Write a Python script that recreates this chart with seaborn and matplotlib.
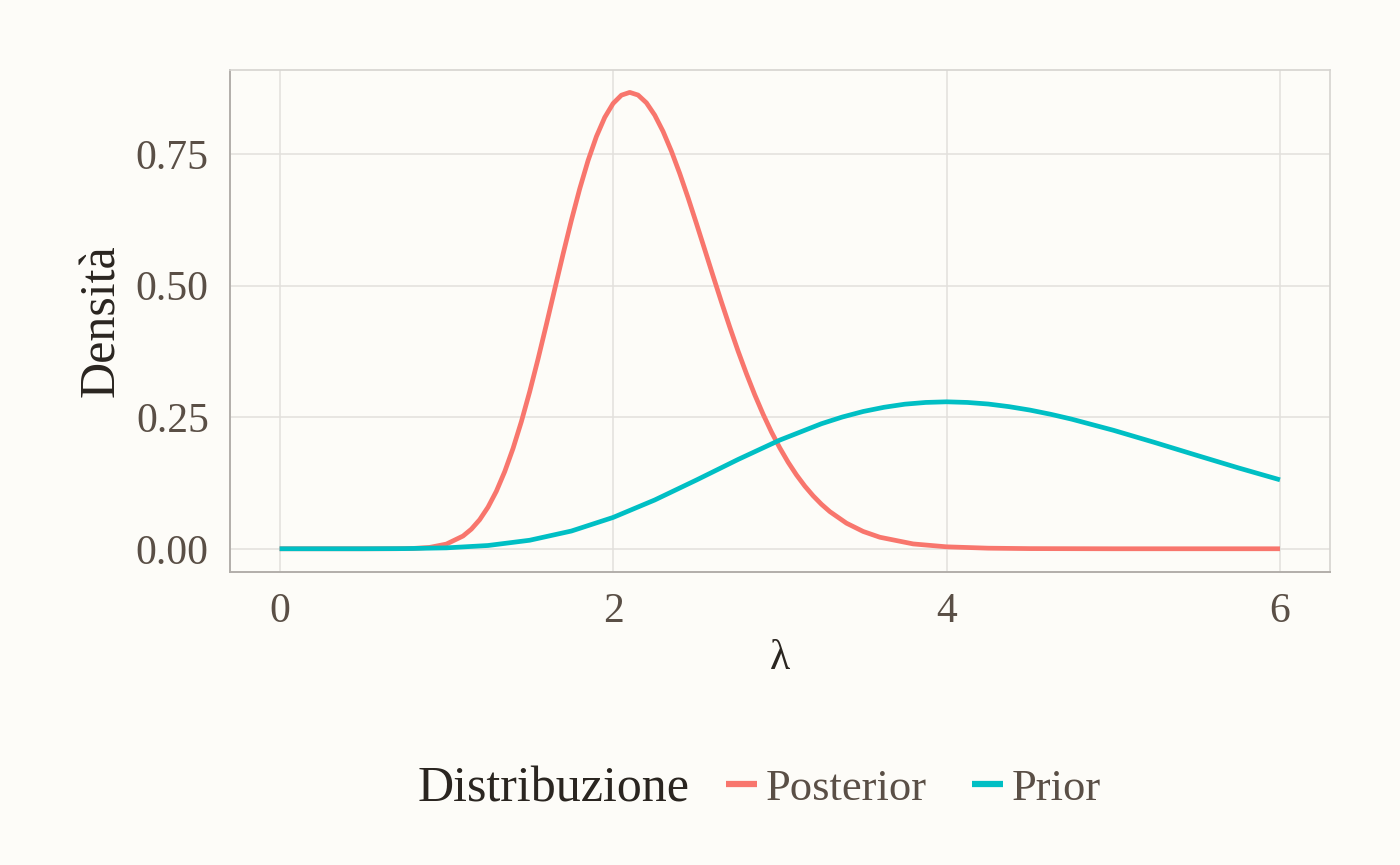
import numpy as np
import pandas as pd
import matplotlib
matplotlib.use("Agg")
import matplotlib.pyplot as plt
from matplotlib.lines import Line2D
import seaborn as sns

# values
lambda_post = [0.0, 0.25, 0.5, 0.7, 0.8, 0.9, 1.0, 1.1, 1.15, 1.2, 1.25, 1.3, 1.35, 1.4,
               1.45, 1.5, 1.55, 1.6, 1.65, 1.7, 1.75, 1.8, 1.85, 1.9, 1.95, 2.0, 2.05,
               2.1, 2.15, 2.2, 2.25, 2.3, 2.35, 2.4, 2.45, 2.5, 2.55, 2.6, 2.65, 2.7,
               2.75, 2.8, 2.85, 2.9, 2.95, 3.0, 3.05, 3.1, 3.15, 3.2, 3.25, 3.3, 3.4,
               3.5, 3.6, 3.8, 4.0, 4.25, 4.5, 5.0, 5.5, 6.0]
dens_post = [0.0, 0.0, 0.0, 0.0001, 0.0006, 0.0026, 0.0089, 0.0242, 0.0373, 0.0553,
             0.0791, 0.1093, 0.1465, 0.1906, 0.2416, 0.2986, 0.3606, 0.4261, 0.4931,
             0.5598, 0.6241, 0.6840, 0.7376, 0.7832, 0.8196, 0.8460, 0.8618, 0.8671,
             0.8620, 0.8473, 0.8238, 0.7928, 0.7553, 0.7128, 0.6667, 0.6180, 0.5682,
             0.5181, 0.4688, 0.4211, 0.3754, 0.3325, 0.2924, 0.2555, 0.2219, 0.1916,
             0.1644, 0.1403, 0.1191, 0.1006, 0.0845, 0.0706, 0.0486, 0.0329, 0.0219,
             0.0092, 0.0037, 0.0011, 0.0003, 0.0, 0.0, 0.0]

lambda_prior = [0.0, 0.25, 0.5, 0.75, 1.0, 1.25, 1.5, 1.75, 2.0, 2.25, 2.5, 2.75, 3.0,
                3.25, 3.375, 3.5, 3.625, 3.75, 3.875, 4.0, 4.125, 4.25, 4.375, 4.5,
                4.625, 4.75, 5.0, 5.25, 5.5, 5.75, 6.0]
dens_prior = [0.0, 0.0, 0.0, 0.0003, 0.0017, 0.0062, 0.0162, 0.0337, 0.0595, 0.0927,
              0.1306, 0.1697, 0.2065, 0.2376, 0.2503, 0.2608, 0.2688, 0.2747, 0.2780,
              0.2792, 0.2780, 0.2750, 0.2700, 0.2635, 0.2555, 0.2463, 0.2252, 0.2018,
              0.1776, 0.1537, 0.1310]

x_ticks = [0, 2, 4, 6]
x_tick_labels = ["0", "2", "4", "6"]
y_ticks = [0.0, 0.25, 0.5, 0.75]
y_tick_labels = ["0.00", "0.25", "0.50", "0.75"]

groups = ["Posterior", "Prior"]
colors = {"Posterior": "#F8766D", "Prior": "#00BFC4"}

df = pd.concat([
    pd.DataFrame({"lambda": lambda_post, "densita": dens_post, "Distribuzione": "Posterior"}),
    pd.DataFrame({"lambda": lambda_prior, "densita": dens_prior, "Distribuzione": "Prior"}),
], ignore_index=True)

bg = "#FDFCF8"
grid_col = "#E2E0DC"
tick_col = "#5A4F46"
title_col = "#2A2520"

sns.set_theme(style="whitegrid")
plt.rcParams["font.family"] = ["Liberation Serif", "DejaVu Serif"]

fig, ax = plt.subplots(figsize=(14, 8.65), dpi=100)
fig.patch.set_facecolor(bg)
ax.set_facecolor(bg)
fig.subplots_adjust(left=0.164, right=0.95, top=0.919, bottom=0.339)

sns.lineplot(data=df, x="lambda", y="densita", hue="Distribuzione", hue_order=groups,
             palette=colors, linewidth=3.6, ax=ax, legend=False, sort=False)
for ln in ax.get_lines():
    ln.set_linewidth(3.4)
    ln.set_solid_capstyle("butt")
    ln.set_solid_joinstyle("round")

ax.set_xlim(-0.3, 6.3)
ax.set_ylim(-0.0437, 0.9095)
ax.set_xticks(x_ticks)
ax.set_xticklabels(x_tick_labels)
ax.set_yticks(y_ticks)
ax.set_yticklabels(y_tick_labels)
ax.grid(True, color=grid_col, linewidth=1.1)
ax.tick_params(axis="both", colors=grid_col, labelcolor=tick_col, labelsize=30,
               length=9, width=1.1, direction="out", pad=6)

for side in ["top", "right"]:
    ax.spines[side].set_color("#D6D4D0")
    ax.spines[side].set_linewidth(1.2)
for side in ["left", "bottom"]:
    ax.spines[side].set_color("#B2AEAA")
    ax.spines[side].set_linewidth(1.4)

ax.set_xlabel("λ", fontsize=30, color=title_col, labelpad=6)
ax.set_ylabel("Densità", fontsize=36, color=title_col, labelpad=8)

handles = [Line2D([0], [0], color=colors[g], linewidth=4.5, solid_capstyle="butt") for g in groups]
fig.text(0.298, 0.088, "Distribuzione", fontsize=36, color=title_col, ha="left", va="center")
fig.legend(handles, groups, loc="center left", bbox_to_anchor=(0.49, 0.088), ncol=2,
           frameon=False, fontsize=32, labelcolor=tick_col, handlelength=0.7,
           handletextpad=0.2, columnspacing=1.0)

fig.savefig("out.png", dpi=100, facecolor=bg)
